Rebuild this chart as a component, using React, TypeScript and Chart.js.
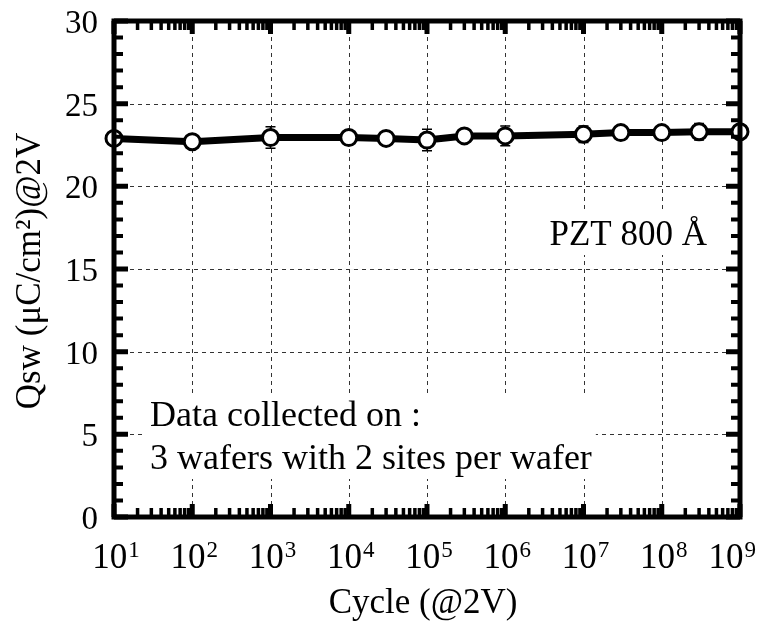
import React, { useEffect, useRef } from "react";
import { Chart, registerables } from "chart.js";

Chart.register(...registerables);

const cycles = [1e1, 1e2, 1e3, 1e4, 3e4, 1e5, 3e5, 1e6, 1e7, 3e7, 1e8, 3e8, 1e9];
const qsw = [22.9, 22.7, 22.95, 22.95, 22.9, 22.8, 23.05, 23.05, 23.15, 23.25, 23.25, 23.3, 23.3];
const qswErr = [0.3, 0, 0.65, 0, 0, 0.65, 0, 0.6, 0.5, 0, 0, 0.5, 0];
const xExponents = [1, 2, 3, 4, 5, 6, 7, 8, 9];
const yTicks = [0, 5, 10, 15, 20, 25, 30];
const xTitle = "Cycle (@2V)";
const yTitle = "Qsw (μC/cm²)@2V";
const noteMaterial = "PZT 800 Å";
const noteLines = ["Data collected on :", "3 wafers with 2 sites per wafer"];

const FONT = "'Liberation Serif', 'Times New Roman', serif";

const decorPlugin = {
  id: "decor",
  beforeDatasetsDraw(chart: any) {
    const ctx = chart.ctx;
    const { left, right, top, bottom } = chart.chartArea;
    const xs = chart.scales.x;
    const ys = chart.scales.y;
    ctx.save();
    // grid
    ctx.strokeStyle = "#333";
    ctx.lineWidth = 1;
    ctx.setLineDash([4, 4]);
    xExponents.forEach((e) => {
      const px = Math.round(xs.getPixelForValue(Math.pow(10, e))) + 0.5;
      ctx.beginPath();
      ctx.moveTo(px, top);
      ctx.lineTo(px, bottom);
      ctx.stroke();
    });
    yTicks.forEach((v) => {
      const py = Math.round(ys.getPixelForValue(v)) + 0.5;
      ctx.beginPath();
      ctx.moveTo(left, py);
      ctx.lineTo(right, py);
      ctx.stroke();
    });
    ctx.setLineDash([]);
    // notes with white background
    ctx.font = "35px " + FONT;
    ctx.textBaseline = "alphabetic";
    const pzB = 245;
    const pzW = ctx.measureText(noteMaterial).width;
    ctx.fillStyle = "#fff";
    ctx.fillRect(right - 33 - pzW - 6, pzB - 34, pzW + 12, 44);
    ctx.fillStyle = "#000";
    ctx.textAlign = "right";
    ctx.fillText(noteMaterial, right - 33, pzB);
    ctx.textAlign = "left";
    ctx.font = "36px " + FONT;
    const b1 = 426;
    const b2 = 469;
    const w = Math.max(...noteLines.map((t) => ctx.measureText(t).width));
    ctx.fillStyle = "#fff";
    ctx.fillRect(left + 28, b1 - 32, w + 12, b2 - b1 + 42);
    ctx.fillStyle = "#000";
    ctx.fillText(noteLines[0], left + 36, b1);
    ctx.fillText(noteLines[1], left + 36, b2);
    // error bars
    ctx.strokeStyle = "#000";
    ctx.lineWidth = 1.5;
    cycles.forEach((c, i) => {
      const e = qswErr[i];
      if (!e) return;
      const px = xs.getPixelForValue(c);
      const y1 = ys.getPixelForValue(qsw[i] + e);
      const y2 = ys.getPixelForValue(qsw[i] - e);
      ctx.beginPath();
      ctx.moveTo(px, y1);
      ctx.lineTo(px, y2);
      ctx.moveTo(px - 5, y1);
      ctx.lineTo(px + 5, y1);
      ctx.moveTo(px - 5, y2);
      ctx.lineTo(px + 5, y2);
      ctx.stroke();
    });
    ctx.restore();
  },
  afterDraw(chart: any) {
    const ctx = chart.ctx;
    const { left, right, top, bottom } = chart.chartArea;
    const xs = chart.scales.x;
    const ys = chart.scales.y;
    ctx.save();
    ctx.strokeStyle = "#000";
    const vtick = (px: number, len: number, lw: number) => {
      ctx.lineWidth = lw;
      ctx.beginPath();
      ctx.moveTo(px, bottom);
      ctx.lineTo(px, bottom - len);
      ctx.moveTo(px, top);
      ctx.lineTo(px, top + len);
      ctx.stroke();
    };
    const htick = (py: number, len: number, lw: number) => {
      ctx.lineWidth = lw;
      ctx.beginPath();
      ctx.moveTo(left, py);
      ctx.lineTo(left + len, py);
      ctx.moveTo(right, py);
      ctx.lineTo(right - len, py);
      ctx.stroke();
    };
    xExponents.forEach((e) => {
      vtick(xs.getPixelForValue(Math.pow(10, e)), 13, 5);
      if (e < xExponents[xExponents.length - 1]) {
        for (let m = 2; m <= 9; m++) vtick(xs.getPixelForValue(m * Math.pow(10, e)), 9, 3.5);
      }
    });
    for (let v = 0; v <= 30; v++) {
      const py = ys.getPixelForValue(v);
      if (v % 5 === 0) htick(py, 14, 5);
      else htick(py, 9, 4);
    }
    // frame
    ctx.lineWidth = 5;
    ctx.strokeRect(left, top, right - left, bottom - top);
    // y tick labels
    ctx.fillStyle = "#000";
    ctx.font = "33px " + FONT;
    ctx.textAlign = "right";
    ctx.textBaseline = "alphabetic";
    yTicks.forEach((v) => ctx.fillText(String(v), left - 16, ys.getPixelForValue(v) + 12));
    // x tick labels
    ctx.textAlign = "left";
    xExponents.forEach((e) => {
      ctx.font = "35px " + FONT;
      const bw = ctx.measureText("10").width;
      ctx.font = "23px " + FONT;
      const ew = ctx.measureText(String(e)).width;
      const total = bw + ew + 1;
      let x0 = xs.getPixelForValue(Math.pow(10, e)) - total / 2 + 2;
      if (x0 + total > chart.width - 4) x0 = chart.width - 4 - total;
      ctx.font = "35px " + FONT;
      ctx.fillText("10", x0, 568);
      ctx.font = "23px " + FONT;
      ctx.fillText(String(e), x0 + bw + 1, 557);
    });
    // titles
    ctx.font = "35px " + FONT;
    ctx.textAlign = "center";
    ctx.fillText(xTitle, 423, 613);
    ctx.translate(40, 271);
    ctx.rotate(-Math.PI / 2);
    ctx.fillText(yTitle, 0, 0);
    ctx.restore();
  },
};

export default function App() {
  const ref = useRef<HTMLCanvasElement | null>(null);
  useEffect(() => {
    if (!ref.current) return;
    const chart = new Chart(ref.current, {
      type: "line",
      data: {
        datasets: [
          {
            data: cycles.map((c, i) => ({ x: c, y: qsw[i] })),
            borderColor: "#000",
            borderWidth: 7,
            pointBackgroundColor: "#fff",
            pointBorderColor: "#000",
            pointBorderWidth: 3,
            pointRadius: 8,
            tension: 0,
            clip: false as any,
          },
        ],
      },
      options: {
        animation: false,
        responsive: false,
        maintainAspectRatio: false,
        layout: { padding: { top: 21, right: 20, left: 0, bottom: 0 } },
        plugins: { legend: { display: false }, tooltip: { enabled: false } },
        scales: {
          x: {
            type: "logarithmic",
            min: 10,
            max: 1e9,
            ticks: { display: false },
            grid: { display: false },
            border: { display: false },
            afterFit: (s: any) => {
              s.height = 111;
            },
          },
          y: {
            min: 0,
            max: 30,
            ticks: { display: false },
            grid: { display: false },
            border: { display: false },
            afterFit: (s: any) => {
              s.width = 114;
            },
          },
        },
      },
      plugins: [decorPlugin],
    });
    return () => chart.destroy();
  }, []);
  return (
    <div style={{ position: "fixed", left: 0, top: 0, width: 760, height: 628, background: "#fff" }}>
      <canvas ref={ref} width={760} height={628} />
    </div>
  );
}
